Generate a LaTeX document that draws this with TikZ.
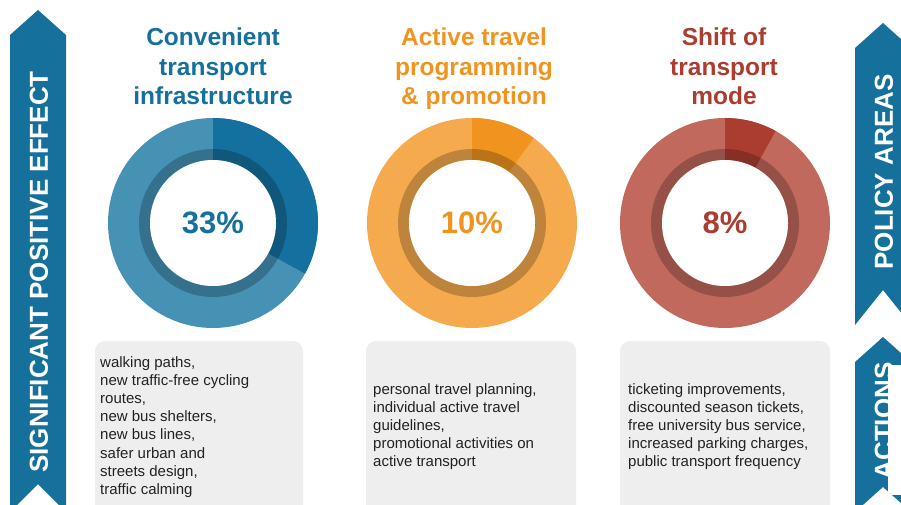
\documentclass[tikz,border=0pt]{standalone}
\usepackage{fontspec}
\setmainfont{Liberation Sans}
\usepackage{tikz}

\definecolor{bannerblue}{HTML}{15709C}
\definecolor{blueLite}{HTML}{4592B4}
\definecolor{blueDark}{HTML}{14709E}
\definecolor{orangeLite}{HTML}{F5AA4E}
\definecolor{orangeDark}{HTML}{F0941F}
\definecolor{redLite}{HTML}{C0695C}
\definecolor{redDark}{HTML}{AB3D30}
\definecolor{boxgray}{HTML}{EEEEEE}
\definecolor{textgray}{HTML}{222222}

\begin{document}
\begin{tikzpicture}[x=1pt, y=1pt,
    banner/.style={fill=bannerblue},
    bannertext/.style={text=white, rotate=90, inner sep=0pt,
        font=\fontsize{26}{26}\selectfont\bfseries},
    title/.style={anchor=north, align=center, inner sep=0pt,
        font=\fontsize{24.5}{29.5}\selectfont\bfseries},
    percent/.style={font=\fontsize{31}{31}\selectfont\bfseries},
    actionbox/.style={fill=boxgray, rounded corners=10pt},
    actiontext/.style={anchor=north west, align=left, inner sep=0pt,
        text=textgray, font=\fontsize{15}{18.2}\selectfont}]
    \useasboundingbox (0,0) rectangle (901,-505);
    \clip (0,0) rectangle (901,-505);

    \fill[banner] (10,-35) -- (38,-10) -- (66,-35) -- (66,-512) -- (38,-484) -- (10,-512) -- cycle;
    \node[bannertext] (effect) at (39,-272) {SIGNIFICANT POSITIVE EFFECT};

    \fill[banner] (855,-48) -- (883,-23) -- (911,-48) -- (911,-325) -- (883,-290) -- (855,-325) -- cycle;
    \node[bannertext] (policy) at (884,-172) {POLICY AREAS};
    \fill[banner] (855,-362) -- (883,-337) -- (911,-362) -- (911,-512) -- (883,-487) -- (855,-512) -- cycle;
    \node[bannertext] (actions) at (884,-421) {ACTIONS};
    \fill[white] (888,-365) rectangle (901,-495);

    \foreach \cx/\lite/\dark/\pct/\nm in {213/blueLite/blueDark/33/a,
        472/orangeLite/orangeDark/10/b, 725/redLite/redDark/8/c} {
        \coordinate (ring\nm) at (\cx,-223);
        \fill[\lite] (ring\nm) circle (105);
        \fill[\dark] (ring\nm) -- ++(90:105) arc[start angle=90, end angle=90-3.6*\pct, radius=105] -- cycle;
        \fill[black, opacity=.22, even odd rule] (ring\nm) circle (74) (ring\nm) circle (63);
        \fill[white] (ring\nm) circle (63);
        \node[percent, text=\dark] (pct\nm) at (ring\nm) {\pct\%};
    }

    \node[title, text=blueDark] (titlea) at (213,-28) {Convenient\\transport\\infrastructure};
    \node[title, text=orangeDark] (titleb) at (474,-28) {Active travel\\programming\\\& promotion};
    \node[title, text=redDark] (titlec) at (724,-28) {Shift of\\transport\\mode};

    \fill[actionbox] (95,-341) rectangle (303,-520);
    \fill[actionbox] (366,-341) rectangle (576,-520);
    \fill[actionbox] (620,-341) rectangle (830,-520);

    \node[actiontext] (actsa) at (100,-356) {walking paths,\\new traffic-free cycling\\routes,\\new bus shelters,\\new bus lines,\\safer urban and\\streets design,\\traffic calming};
    \node[actiontext] (actsb) at (373,-383) {personal travel planning,\\individual active travel\\guidelines,\\promotional activities on\\active transport};
    \node[actiontext] (actsc) at (628,-383) {ticketing improvements,\\discounted season tickets,\\free university bus service,\\increased parking charges,\\public transport frequency};
\end{tikzpicture}
\end{document}
